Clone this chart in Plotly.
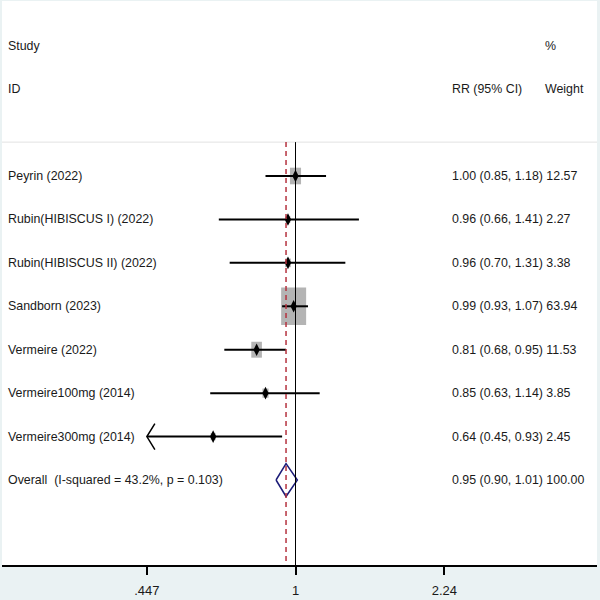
import plotly.graph_objects as go
import math

# ---------------- data ----------------
studies = ["Peyrin (2022)", "Rubin(HIBISCUS I) (2022)", "Rubin(HIBISCUS II) (2022)",
           "Sandborn (2023)", "Vermeire (2022)", "Vermeire100mg (2014)", "Vermeire300mg (2014)"]
rr = [1.00, 0.96, 0.96, 0.99, 0.81, 0.85, 0.64]
ci_lo = [0.85, 0.66, 0.70, 0.93, 0.68, 0.63, 0.446]   # last one shown as 0.45, falls below the axis
ci_hi = [1.18, 1.41, 1.31, 1.07, 0.95, 1.14, 0.93]
weights = [12.57, 2.27, 3.38, 63.94, 11.53, 3.85, 2.45]

overall_label = "Overall  (I-squared = 43.2%, p = 0.103)"
overall_rr, overall_lo, overall_hi, overall_w = 0.95, 0.90, 1.01, 100.00

tick_vals = [0.447, 1, 2.24]
tick_text = [".447", "1", "2.24"]

# ---------------- layout constants ----------------
W, H = 600, 600
ml, mr, mt, mb = 2, 3, 1, 35
row0_px, row_step = 176.0, 43.43
px_per_decade = 425.0
one_px = 295.5

FONT = "Liberation Sans, Arial, sans-serif"
TXT = "#1a1a1a"
FS = 12.4

x_range = [-(one_px - ml) / px_per_decade, (W - mr - one_px) / px_per_decade]
y_top = -(row0_px - mt) / row_step
y_bot = (H - mb - row0_px) / row_step
line_top = -0.78

rows = list(range(len(studies)))
overall_row = len(studies)
xmin_axis = tick_vals[0]


def xshift(v, px):
    """value shifted by px pixels on the log axis"""
    return v * 10 ** (px / px_per_decade)


def ysz(px):
    return px / row_step


fig = go.Figure()

shapes = []
# weight boxes (area proportional to weight)
max_w = max(weights)
for r, est, w in zip(rows, rr, weights):
    bw = 25 * math.sqrt(w / max_w)
    bh = 1.5 * bw
    shapes.append(dict(type="rect", xref="x", yref="y",
                       x0=xshift(est, -bw / 2), x1=xshift(est, bw / 2),
                       y0=r - ysz(bh / 2), y1=r + ysz(bh / 2),
                       fillcolor="#b4b4b4", line=dict(width=0), layer="below"))

# reference lines
shapes.append(dict(type="line", xref="paper", yref="y", x0=0, x1=1, y0=line_top, y1=line_top,
                   line=dict(color="#e2e2e2", width=1), layer="below"))
shapes.append(dict(type="line", xref="x", yref="y", x0=1, x1=1, y0=line_top, y1=y_bot,
                   line=dict(color="black", width=1)))
shapes.append(dict(type="line", xref="x", yref="y", x0=overall_rr, x1=overall_rr, y0=line_top, y1=y_bot,
                   line=dict(color="#b5323f", width=1.5, dash="5px,4px")))

# CI lines (clipped at axis minimum)
xs, ys = [], []
for r, lo, hi in zip(rows, ci_lo, ci_hi):
    xs += [max(lo, xmin_axis), hi, None]
    ys += [r, r, None]
fig.add_trace(go.Scatter(x=xs, y=ys, mode="lines", line=dict(color="black", width=2),
                         hoverinfo="skip", showlegend=False))

# open arrow heads for clipped CIs
for r, lo in zip(rows, ci_lo):
    if lo < xmin_axis:
        tip = xmin_axis
        back = xshift(xmin_axis, 8)
        fig.add_trace(go.Scatter(x=[back, tip, back], y=[r - ysz(13), r, r + ysz(13)],
                                 mode="lines", line=dict(color="black", width=1.5, simplify=False),
                                 hoverinfo="skip", showlegend=False, cliponaxis=False))

# point estimates
fig.add_trace(go.Scatter(x=rr, y=rows, mode="markers",
                         marker=dict(symbol="diamond-tall", size=9, color="black"),
                         hoverinfo="skip", showlegend=False))

# overall diamond
dh = ysz(16.5)
fig.add_trace(go.Scatter(x=[overall_lo, overall_rr, overall_hi, overall_rr, overall_lo],
                         y=[overall_row, overall_row - dh, overall_row, overall_row + dh, overall_row],
                         mode="lines", fill="toself", fillcolor="white",
                         line=dict(color="#1c1c78", width=1.5), hoverinfo="skip", showlegend=False))

# ---------------- text ----------------
def xp(px):
    return (px - ml) / (W - ml - mr)

ann = []
def add_text(px, row, text):
    ann.append(dict(x=xp(px), y=row, xref="paper", yref="y", text=text, showarrow=False,
                    xanchor="left", yanchor="middle", font=dict(family=FONT, size=FS, color=TXT),
                    borderpad=0))

add_text(7, -3, "Study")
add_text(544, -3, "%")
add_text(7, -2, "ID")
add_text(451, -2, "RR (95% CI)")
add_text(544, -2, "Weight")
for r, s, est, lo, hi, w in zip(rows, studies, rr, ci_lo, ci_hi, weights):
    add_text(7, r, s)
    add_text(451, r, f"{est:.2f} ({lo:.2f}, {hi:.2f}) {w:.2f}")
add_text(7, overall_row, overall_label)
add_text(451, overall_row, f"{overall_rr:.2f} ({overall_lo:.2f}, {overall_hi:.2f}) {overall_w:.2f}")

fig.update_layout(
    width=W, height=H, autosize=False,
    margin=dict(l=ml, r=mr, t=mt, b=mb, pad=0),
    paper_bgcolor="#eaf2f3", plot_bgcolor="white",
    shapes=shapes, annotations=ann, showlegend=False,
    xaxis=dict(type="log", range=x_range, tickvals=tick_vals, ticktext=tick_text,
               showgrid=False, zeroline=False, showline=True, linecolor="black", linewidth=2,
               ticks="outside", ticklen=8, tickwidth=1.5, tickcolor="black", ticklabelstandoff=4,
               tickfont=dict(family=FONT, size=13, color=TXT), fixedrange=True),
    yaxis=dict(range=[y_bot, y_top], visible=False, fixedrange=True),
)

fig.write_html("out.html")
